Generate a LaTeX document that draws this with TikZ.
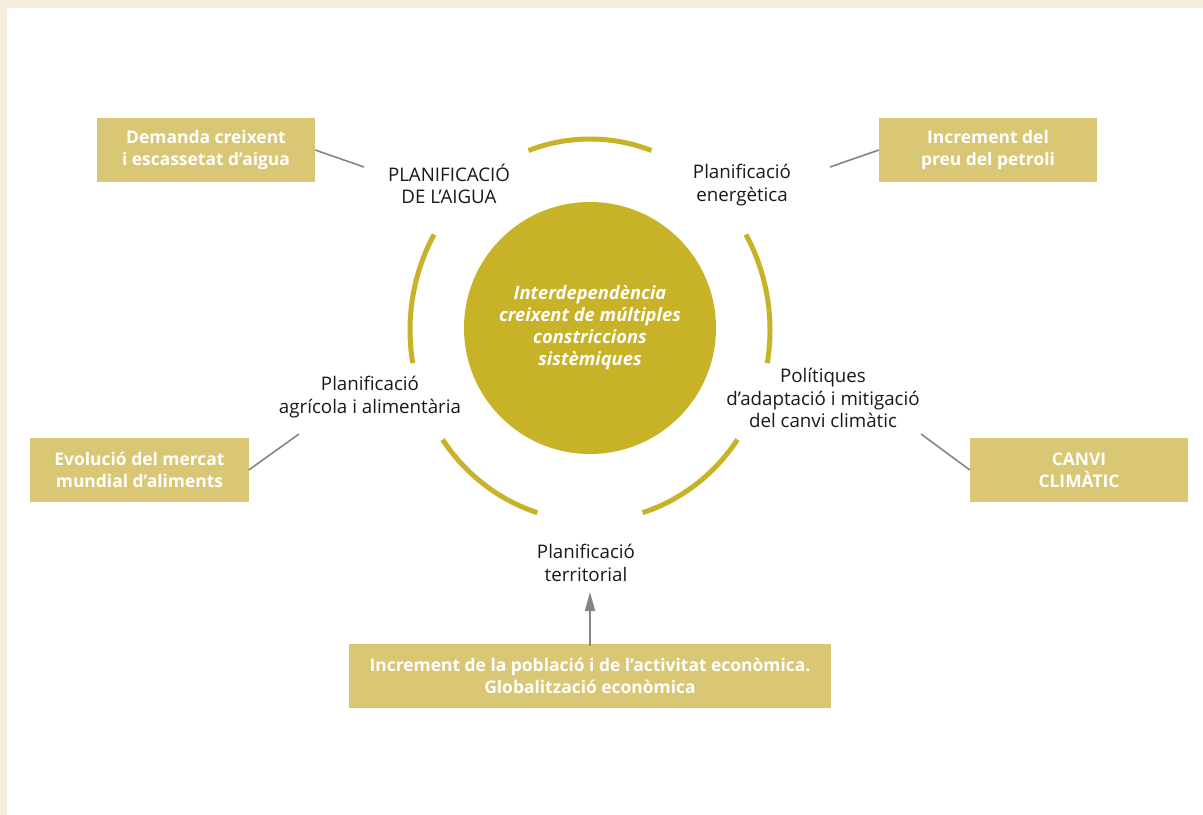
\documentclass[tikz,border=0pt]{standalone}
\usepackage{fontspec}
\setmainfont{Open Sans}
\usetikzlibrary{arrows.meta}
\definecolor{gold}{HTML}{C8B228}
\definecolor{boxgold}{HTML}{D9C776}
\definecolor{cream}{HTML}{F5EEDB}
\definecolor{linkgray}{HTML}{858585}
\begin{document}
\begin{tikzpicture}[x=1bp,y=-1bp,
  factor/.style={rectangle, fill=boxgold, text=white, inner sep=0pt,
    minimum width=218bp, minimum height=64bp, align=center,
    font=\fontsize{17.5}{22.5}\selectfont\bfseries},
  plan/.style={align=center, inner sep=0pt, text=black!90,
    font=\fontsize{18.8}{22.5}\selectfont},
  ringarc/.style={draw=gold, line width=5bp},
  link/.style={draw=linkgray, line width=1.6bp}]
% frame
\fill[cream] (0,0) rectangle (1203,815);
\fill[white] (7,8) rectangle (1203,815);
\useasboundingbox (0,0) rectangle (1203,815);

% central disk
\node[circle, fill=gold, text=white, minimum size=252bp, inner sep=0pt,
  align=center, font=\fontsize{18.4}{22}\selectfont\bfseries\itshape]
  (core) at (590,328) {Interdependència\\creixent de múltiples\\constriccions\\sistèmiques};

% ring of arcs around the disk
\coordinate (ring) at (590,330);
\begin{scope}[shift={(ring)}]
  \draw[ringarc] (-70:180 and 191) arc[start angle=-70, end angle=-110, x radius=180, y radius=191];
  \draw[ringarc] (-150:180 and 191) arc[start angle=-150, end angle=-190, x radius=180, y radius=191];
  \draw[ringarc] (-215:180 and 191) arc[start angle=-215, end angle=-253, x radius=180, y radius=191];
  \draw[ringarc] (-287:180 and 191) arc[start angle=-287, end angle=-325, x radius=180, y radius=191];
  \draw[ringarc] (10:180 and 191) arc[start angle=10, end angle=-30, x radius=180, y radius=191];
\end{scope}

% planning areas
\node[plan] (aigua) at (449,184) {PLANIFICACIÓ\\DE L’AIGUA};
\node[plan] (energia) at (742,185) {Planificació\\energètica};
\node[plan] (agricola) at (370,397) {Planificació\\agrícola i alimentària};
\node[plan] (clima) at (823,398) {Polítiques\\d’adaptació i mitigació\\del canvi climàtic};
\node[plan] (territori) at (586,563) {Planificació\\territorial};

% driving factors
\node[factor] (demanda) at (206,150) {Demanda creixent\\i escassetat d’aigua};
\node[factor] (petroli) at (988,150) {Increment del\\preu del petroli};
\node[factor] (mercat) at (139.5,470) {Evolució del mercat\\mundial d’aliments};
\node[factor] (canvi) at (1079,470) {CANVI\\CLIMÀTIC};
\node[factor, minimum width=482bp] (poblacio) at (590,676)
  {Increment de la població i de l’activitat econòmica.\\Globalització econòmica};

% connectors
\coordinate (aiguaEnd) at (364,167);
\coordinate (energiaEnd) at (830,167);
\coordinate (agricolaEnd) at (299,434);
\coordinate (climaEnd) at (921,434);
\coordinate (territoriEnd) at (590,592);
\draw[link] (demanda.east) -- (aiguaEnd);
\draw[link] (petroli.west) -- (energiaEnd);
\draw[link] (mercat.east) -- (agricolaEnd);
\draw[link] (canvi.west) -- (climaEnd);
\draw[link, -{Triangle[length=19bp, width=10bp]}] ([yshift=-2bp]poblacio.north) -- (territoriEnd);
\end{tikzpicture}
\end{document}
